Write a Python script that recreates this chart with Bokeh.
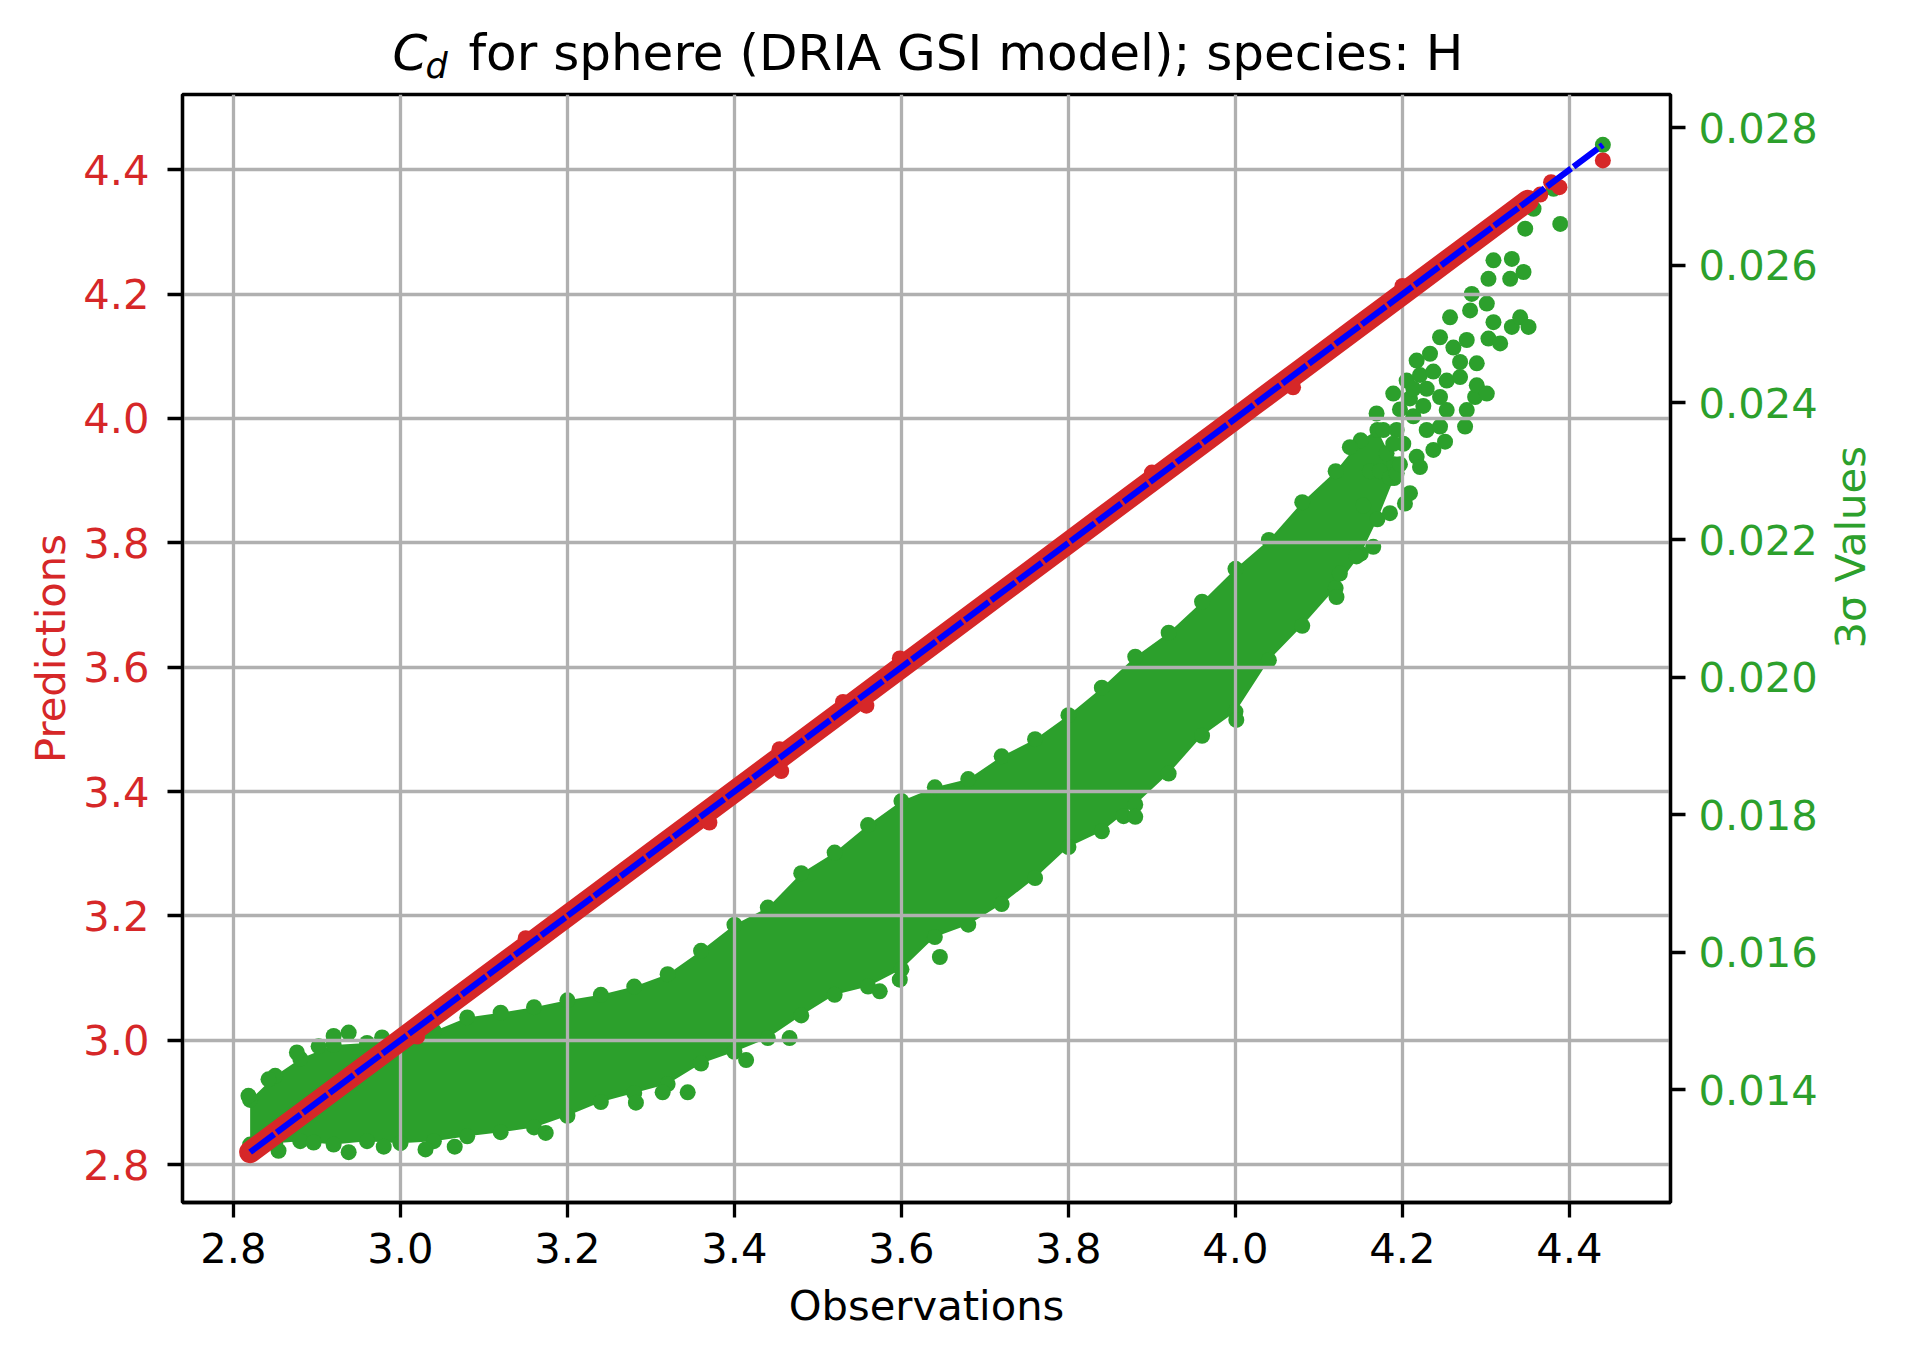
import math
from bokeh.plotting import figure
from bokeh.layouts import column
from bokeh.models import Range1d, LinearAxis, FixedTicker, NumeralTickFormatter, Label
from bokeh.embed import file_html
from bokeh.resources import INLINE

# ---------------- texts ----------------
title_symbol = "C"
title_subscript = "d"
title_rest = "for sphere (DRIA GSI model); species: H"
x_label = "Observations"
y_label = "Predictions"
y2_label = "3σ Values"

# ---------------- ticks ----------------
x_ticks = [2.8, 3.0, 3.2, 3.4, 3.6, 3.8, 4.0, 4.2, 4.4]
y_ticks = [2.8, 3.0, 3.2, 3.4, 3.6, 3.8, 4.0, 4.2, 4.4]
y2_ticks = [0.014, 0.016, 0.018, 0.020, 0.022, 0.024, 0.026, 0.028]

# ---------------- red: predictions vs observations ----------------
obs_band = [2.82, 2.88, 2.94, 3.00, 3.06, 3.12, 3.18, 3.24, 3.30, 3.36, 3.42, 3.48,
            3.54, 3.60, 3.66, 3.72, 3.78, 3.84, 3.90, 3.96, 4.02, 4.08, 4.14, 4.20,
            4.26, 4.32, 4.35]
pred_band = [2.82, 2.88, 2.94, 3.00, 3.06, 3.12, 3.18, 3.24, 3.30, 3.36, 3.42, 3.48,
             3.54, 3.60, 3.66, 3.72, 3.78, 3.84, 3.90, 3.96, 4.02, 4.08, 4.14, 4.20,
             4.26, 4.32, 4.35]
obs_red = [3.020, 3.150, 3.370, 3.454, 3.456, 3.530, 3.558, 3.598, 3.900, 4.069,
           4.200, 4.365, 4.378, 4.388, 4.440]
pred_red = [3.006, 3.164, 3.350, 3.468, 3.433, 3.544, 3.538, 3.614, 3.913, 4.050,
            4.213, 4.360, 4.380, 4.372, 4.415]

# ---------------- green: 3 sigma values, dense core of the cloud ----------------
core_obs = [2.82, 2.85, 2.88, 2.92, 2.96, 3.00, 3.04, 3.08, 3.12, 3.16, 3.20, 3.24,
            3.28, 3.32, 3.36, 3.40, 3.44, 3.48, 3.52, 3.56, 3.60, 3.64, 3.68, 3.72,
            3.76, 3.80, 3.84, 3.88, 3.92, 3.96, 4.00, 4.04, 4.08, 4.12, 4.15, 4.17, 4.19]
core_sig_hi = [0.01385, 0.01420, 0.01445, 0.01465, 0.01468, 0.01475, 0.01485, 0.01505,
               0.01512, 0.01520, 0.01530, 0.01538, 0.01550, 0.01568, 0.01602, 0.01640,
               0.01665, 0.01715, 0.01745, 0.01785, 0.01820, 0.01840, 0.01852, 0.01885,
               0.01910, 0.01945, 0.01985, 0.02030, 0.02065, 0.02110, 0.02158, 0.02200,
               0.02255, 0.02300, 0.02345, 0.02360, 0.02310]
core_sig_lo = [0.01320, 0.01322, 0.01325, 0.01320, 0.01325, 0.01322, 0.01325, 0.01332,
               0.01338, 0.01345, 0.01362, 0.01382, 0.01395, 0.01408, 0.01438, 0.01455,
               0.01475, 0.01508, 0.01538, 0.01550, 0.01575, 0.01622, 0.01640, 0.01670,
               0.01708, 0.01753, 0.01776, 0.01815, 0.01860, 0.01915, 0.01950, 0.02025,
               0.02075, 0.02130, 0.02180, 0.02230, 0.02290]

# ---------------- green: isolated / sparse points ----------------
sparse_obs = [2.818, 2.842, 2.876, 2.902, 2.938, 2.920, 2.978, 2.854, 2.896, 2.938,
              2.980, 3.030, 3.065, 3.174, 3.282, 3.314, 3.344, 3.414, 3.466, 3.574,
              3.598, 3.646, 3.866, 3.880, 4.001, 4.121, 4.125, 4.145, 4.137, 4.153,
              4.161, 4.165, 4.169, 4.173, 4.177, 4.181, 4.185, 4.185, 4.189, 4.193,
              4.193, 4.197, 4.201, 4.203, 4.205, 4.209, 4.209, 4.213, 4.217, 4.217,
              4.221, 4.221, 4.229, 4.229, 4.233, 4.237, 4.245, 4.245, 4.245, 4.251,
              4.253, 4.253, 4.257, 4.269, 4.269, 4.275, 4.277, 4.277, 4.281, 4.283,
              4.287, 4.289, 4.289, 4.301, 4.301, 4.303, 4.303, 4.309, 4.309, 4.317,
              4.329, 4.331, 4.331, 4.341, 4.345, 4.347, 4.351, 4.357, 4.381, 4.389,
              4.440, 4.189, 4.197, 4.213, 4.225, 4.237, 4.261]
sparse_sig = [0.01391, 0.01415, 0.01454, 0.01463, 0.01483, 0.01478, 0.01476, 0.01311, 0.01323, 0.01309,
              0.01317, 0.01313, 0.01317, 0.01337, 0.01381, 0.01396, 0.01396, 0.01443, 0.01475, 0.01543,
              0.01560, 0.01593, 0.01798, 0.01797, 0.01938, 0.02117, 0.02151, 0.02176, 0.02335, 0.02250,
              0.02300, 0.02190, 0.02384, 0.02300, 0.02360, 0.02326, 0.02239, 0.02290, 0.02413, 0.02297,
              0.02360, 0.02390, 0.02340, 0.02253, 0.02432, 0.02268, 0.02406, 0.02380, 0.02461, 0.02321,
              0.02306, 0.02440, 0.02420, 0.02360, 0.02471, 0.02331, 0.02495, 0.02408, 0.02365, 0.02343,
              0.02432, 0.02389, 0.02524, 0.02459, 0.02437, 0.02365, 0.02491, 0.02389, 0.02534, 0.02558,
              0.02408, 0.02457, 0.02425, 0.02544, 0.02413, 0.02580, 0.02493, 0.02607, 0.02517, 0.02486,
              0.02580, 0.02609, 0.02510, 0.02524, 0.02590, 0.02653, 0.02510, 0.02682, 0.02711, 0.02660,
              0.02775, 0.02340, 0.02310, 0.02420, 0.02395, 0.02445, 0.02480]

# ---------------- style ----------------
RED = "#d62728"
GREEN = "#2ca02c"
BLUE = "#0000ff"
FONT = "DejaVu Sans"
TICK_FS = "41.7px"
LABEL_FS = "41.7px"
LW = 3.3
DOT = 16
FRAME_L, FRAME_W, FRAME_H = 182, 1488, 1108
W = 1900
RIGHT_B = W - FRAME_L - FRAME_W
TITLE_H = 92

def padded(lo, hi, frac=0.05):
    pad = (hi - lo) * frac
    return lo - pad, hi + pad

all_obs = obs_band + obs_red
x_lo, x_hi = padded(min(all_obs), max(all_obs))
line_x = [min(all_obs), max(all_obs)]
line_y = [min(all_obs), max(all_obs)]
y_lo, y_hi = padded(min(pred_band + pred_red + line_y), max(pred_band + pred_red + line_y))
all_sig = core_sig_hi + core_sig_lo + sparse_sig
s_lo, s_hi = padded(min(all_sig), max(all_sig))

# ---------------- title strip (pixel coordinates: x = page x, y = height above strip bottom) ----
t = figure(frame_width=FRAME_W, frame_height=TITLE_H,
           min_border_left=FRAME_L, min_border_right=RIGHT_B, min_border_top=0, min_border_bottom=0,
           x_range=Range1d(FRAME_L, FRAME_L + FRAME_W), y_range=Range1d(0, TITLE_H),
           x_axis_type=None, y_axis_type=None, toolbar_location=None, output_backend="svg")
t.outline_line_color = None
t.background_fill_color = "white"
t.border_fill_color = "white"
t.title.visible = False
t.add_layout(Label(x=392, y=39.7, text=title_symbol, text_align="left", text_baseline="middle",
                   text_font=FONT, text_font_style="italic", text_font_size="50px", text_color="black"))
t.add_layout(Label(x=425, y=26.8, text=title_subscript, text_align="left", text_baseline="middle",
                   text_font=FONT, text_font_style="italic", text_font_size="35px", text_color="black"))
t.add_layout(Label(x=468, y=39.7, text=title_rest, text_align="left", text_baseline="middle",
                   text_font=FONT, text_font_size="50px", text_color="black"))

# ---------------- main plot ----------------
p = figure(frame_width=FRAME_W, frame_height=FRAME_H, output_backend="svg", toolbar_location=None,
           x_range=Range1d(x_lo, x_hi), y_range=Range1d(y_lo, y_hi),
           min_border_left=FRAME_L, min_border_right=RIGHT_B, min_border_top=2, min_border_bottom=150)
p.title.visible = False
p.extra_y_ranges = {"sig": Range1d(s_lo, s_hi)}
p.background_fill_color = "white"
p.border_fill_color = "white"
p.outline_line_color = "black"
p.outline_line_width = LW

# green cloud (below the grid)
r = p.varea(x=core_obs, y1=core_sig_lo, y2=core_sig_hi, fill_color=GREEN, y_range_name="sig")
r.level = "image"
for ys in (core_sig_hi, core_sig_lo):
    r = p.scatter(x=core_obs, y=ys, size=DOT, marker="circle", fill_color=GREEN, line_color=None,
                  y_range_name="sig")
    r.level = "image"
r = p.scatter(x=sparse_obs, y=sparse_sig, size=DOT, marker="circle", fill_color=GREEN, line_color=None,
              y_range_name="sig")
r.level = "image"

# red predictions
p.line(x=obs_band, y=pred_band, line_color=RED, line_width=22, line_cap="round", line_join="round")
p.scatter(x=obs_band, y=pred_band, size=DOT, marker="circle", fill_color=RED, line_color=None)
p.scatter(x=obs_red, y=pred_red, size=DOT, marker="circle", fill_color=RED, line_color=None)

# ideal fit line
p.line(x=line_x, y=line_y, line_color=BLUE, line_width=6.2, line_dash="30 3")

# grid
for g in (p.xgrid, p.ygrid):
    g.grid_line_color = "#b0b0b0"
    g.grid_line_width = LW
p.xgrid.ticker = FixedTicker(ticks=x_ticks)
p.ygrid.ticker = FixedTicker(ticks=y_ticks)

def style_axis(ax, label, color, standoff, label_standoff):
    ax.axis_label = label
    ax.axis_label_text_font = FONT
    ax.axis_label_text_font_size = LABEL_FS
    ax.axis_label_text_font_style = "normal"
    ax.axis_label_text_color = color
    ax.axis_label_standoff = label_standoff
    ax.major_label_text_font = FONT
    ax.major_label_text_font_size = TICK_FS
    ax.major_label_text_color = color
    ax.major_label_standoff = standoff
    ax.major_tick_in = 0
    ax.major_tick_out = 15
    ax.major_tick_line_width = LW
    ax.major_tick_line_color = "black"
    ax.minor_tick_line_color = None
    ax.axis_line_width = LW
    ax.axis_line_color = "black"

xa = p.xaxis[0]
style_axis(xa, x_label, "black", 15, 15)
xa.ticker = FixedTicker(ticks=x_ticks)
xa.formatter = NumeralTickFormatter(format="0.0")

ya = p.yaxis[0]
style_axis(ya, y_label, RED, 18, 5)
ya.ticker = FixedTicker(ticks=y_ticks)
ya.formatter = NumeralTickFormatter(format="0.0")

ya2 = LinearAxis(y_range_name="sig")
style_axis(ya2, y2_label, GREEN, 13, 30)
ya2.ticker = FixedTicker(ticks=y2_ticks)
ya2.formatter = NumeralTickFormatter(format="0.000")
ya2.axis_label_orientation = math.pi / 2
p.add_layout(ya2, "right")

page = column(t, p, spacing=0)
open("out.html", "w").write(file_html(page, INLINE, title="Cd for sphere"))
